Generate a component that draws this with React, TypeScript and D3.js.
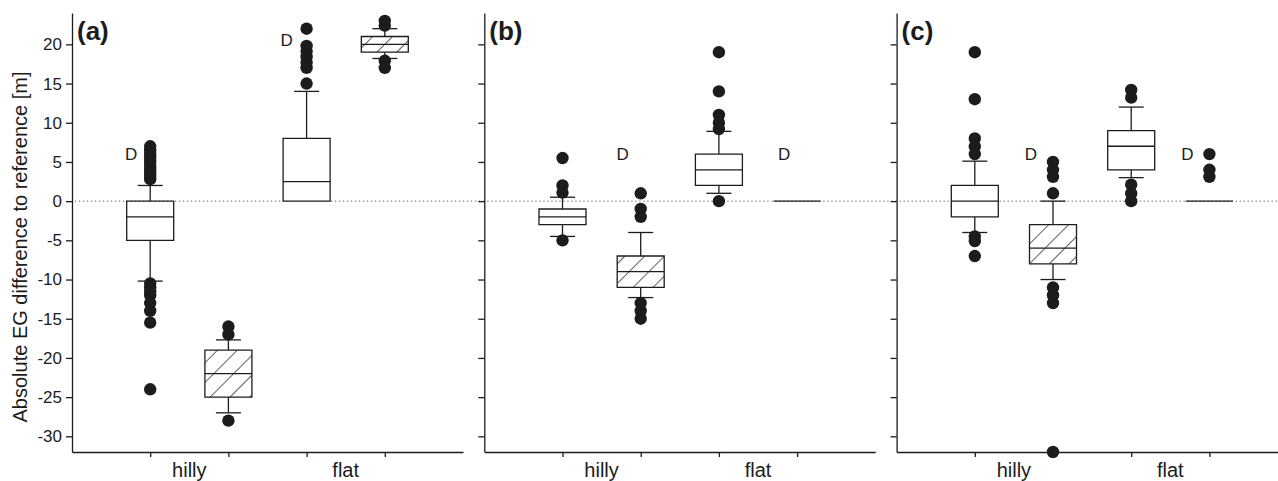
import React, { useEffect, useRef } from 'react';
import * as d3 from 'd3';

// categories
const panels = ['(a)', '(b)', '(c)'];
const groups = ['hilly', 'flat'];
const boxKeys = ['hilly-plain', 'hilly-hatched', 'flat-plain', 'flat-hatched'];
const yTicks = [-30, -25, -20, -15, -10, -5, 0, 5, 10, 15, 20];
const yTitle = 'Absolute EG difference to reference [m]';

// box stats per panel: [lo whisker, q1, median, q3, hi whisker]
const statsA = [
	[-10.2, -5, -2, 0, 2],
	[-27, -25, -22, -19, -17.7],
	[0, 0, 2.5, 8, 14],
	[18.2, 19, 20, 21, 22],
];
const statsB = [
	[-4.5, -3, -2, -1, 0.5],
	[-12.3, -11, -9, -7, -4],
	[1, 2, 4, 6, 8.9],
	[0, 0, 0, 0, 0],
];
const statsC = [
	[-4, -2, 0, 2, 5.1],
	[-10, -8, -6, -3, 0],
	[3, 4, 7, 9, 12],
	[0, 0, 0, 0, 0],
];

// outliers per panel, one list per box
const outA = [
	[2.8, 3.2, 3.6, 4, 4.4, 4.8, 5.2, 5.6, 6, 6.5, 7, -10.5, -11, -11.5, -12, -13, -14, -15.5, -24],
	[-16, -17, -28],
	[15, 17, 17.7, 18.4, 19.1, 19.8, 22],
	[23, 22.4, 17.9, 17],
];
const outB = [
	[5.5, 2, 1.1, -5],
	[1, -1, -2, -13, -14, -15],
	[19, 14, 11, 10, 9.2, 0],
	[],
];
const outC = [
	[19, 13, 8, 7, 6, -4.5, -5.1, -7],
	[5, 4, 3.1, 1, -11, -12, -13, -32],
	[14.2, 13.2, 2.1, 1, 0],
	[6, 4, 3.1],
];

// "D" marks: [box index, value]
const dMarksA = [[0, 6], [2, 20.6]];
const dMarksB = [[1, 6], [3, 6]];
const dMarksC = [[1, 6], [3, 6]];

const allStats = [statsA, statsB, statsC];
const allOut = [outA, outB, outC];
const allD = [dMarksA, dMarksB, dMarksC];

const W = 1278;
const H = 481;
const top = 13;
const bottom = 452;
const panelLeft = 72;
const panelStep = 412.3;
const panelWidth = 391;
const boxW = 47;
const capW = 25;
const ink = '#1c1c1c';
const font = '"Liberation Sans", Arial, sans-serif';
const dShift = [[-19, -20], [-18, -13], [-22, -22]];

const y = d3.scaleLinear().domain([-32, 24]).range([bottom, top]);
const x = d3.scalePoint().domain(boxKeys).range([0, panelWidth]).padding(1);

const YAxis = ({ labels }) => {
	const axis = useRef(null);
	useEffect(() => {
		const g = d3.select(axis.current);
		g.call(
			d3.axisLeft(y).tickValues(yTicks).tickSize(6).tickSizeOuter(0).tickPadding(4)
				.tickFormat((d) => (labels ? String(d) : ''))
		);
		g.attr('font-size', 17).attr('font-family', font);
		g.selectAll('path,line').attr('stroke-width', 1.3);
	}, []);
	return <g ref={axis} style={{ color: ink }} />;
};

const XAxis = () => {
	const axis = useRef(null);
	useEffect(() => {
		const g = d3.select(axis.current);
		g.call(d3.axisBottom(x).tickSize(5).tickSizeOuter(0).tickFormat(() => ''));
		g.selectAll('path,line').attr('stroke-width', 1.3);
	}, []);
	return <g ref={axis} transform={`translate(0, ${bottom})`} style={{ color: ink }} />;
};

const Box = ({ cx, s, hatched }) => {
	const [lo, q1, med, q3, hi] = s;
	const x0 = cx - boxW / 2;
	const x1 = cx + boxW / 2;
	const outline = `M${x0},${y(q3)}H${x1}V${y(q1)}H${x0}Z`;
	return (
		<g stroke={ink} strokeWidth={1.3} fill="none">
			{lo < q1 && (
				<g>
					<line x1={cx} x2={cx} y1={y(q1)} y2={y(lo)} />
					<line x1={cx - capW / 2} x2={cx + capW / 2} y1={y(lo)} y2={y(lo)} />
				</g>
			)}
			{hi > q3 && (
				<g>
					<line x1={cx} x2={cx} y1={y(q3)} y2={y(hi)} />
					<line x1={cx - capW / 2} x2={cx + capW / 2} y1={y(hi)} y2={y(hi)} />
				</g>
			)}
			<path d={outline} fill={hatched && q3 > q1 ? 'url(#hatch)' : '#fff'} />
			{q3 > q1 && <line x1={x0} x2={x1} y1={y(med)} y2={y(med)} />}
		</g>
	);
};

const Panel = ({ index }) => {
	const left = panelLeft + index * panelStep;
	const stats = allStats[index];
	const outs = allOut[index];
	return (
		<g transform={`translate(${left}, 0)`}>
			<line x1={3} x2={panelStep} y1={y(0)} y2={y(0)} stroke="#555" strokeWidth={1} strokeDasharray="1.2 2.8" />
			<YAxis labels={index === 0} />
			<XAxis />
			{boxKeys.map((k, i) => (
				<Box key={k} cx={x(k)} s={stats[i]} hatched={k.endsWith('hatched')} />
			))}
			{outs.map((list, i) =>
				list.map((v, j) => <circle key={`${i}-${j}`} cx={x(boxKeys[i])} cy={y(v)} r={6.2} fill={ink} />)
			)}
			{allD[index].map(([bi, v], j) => (
				<text key={j} x={x(boxKeys[bi]) + dShift[index][j]} y={y(v)} dy="0.36em" textAnchor="middle"
					fontSize={17} fontFamily={font} fill={ink}>D</text>
			))}
			{groups.map((g, i) => (
				<text key={g} x={(x(boxKeys[i * 2]) + x(boxKeys[i * 2 + 1])) / 2} y={477} textAnchor="middle"
					fontSize={20} fontFamily={font} fill={ink}>{g}</text>
			))}
			<text x={5} y={40} fontSize={26} fontWeight="bold" fontFamily={font} fill={ink}>{panels[index]}</text>
		</g>
	);
};

export default function App() {
	return (
		<svg width={W} height={H} style={{ position: 'absolute', left: 0, top: 0, background: '#fff' }}>
			<defs>
				<pattern id="hatch" patternUnits="userSpaceOnUse" width={14} height={14} patternTransform="rotate(45)">
					<rect width={14} height={14} fill="#fff" />
					<line x1={0} x2={0} y1={0} y2={14} stroke={ink} strokeWidth={1.4} />
				</pattern>
			</defs>
			{panels.map((p, i) => (
				<Panel key={p} index={i} />
			))}
			<text transform="rotate(-90)" x={-247} y={27} textAnchor="middle" fontSize={20} fontFamily={font} fill={ink}>
				{yTitle}
			</text>
		</svg>
	);
}
